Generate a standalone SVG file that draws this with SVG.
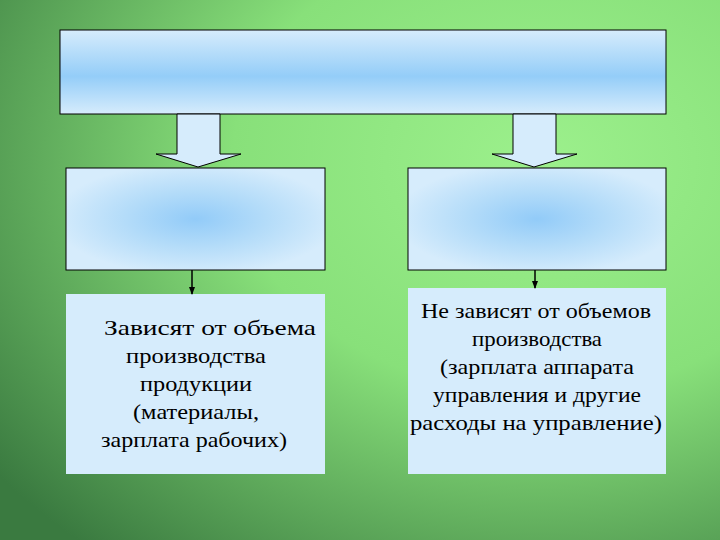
<svg xmlns="http://www.w3.org/2000/svg" width="720" height="540" viewBox="0 0 720 540">
<defs>
<radialGradient id="bg" cx="0.75" cy="0.3" r="0.95">
<stop offset="0" stop-color="#9cf08c"/><stop offset="0.45" stop-color="#88e07a"/><stop offset="1" stop-color="#3a7a40"/>
</radialGradient>
<linearGradient id="top" x1="0" y1="0" x2="0" y2="1">
<stop offset="0" stop-color="#d6ecfc"/><stop offset="0.55" stop-color="#94cdf8"/><stop offset="1" stop-color="#d6ecfc"/>
</linearGradient>
<radialGradient id="mid" cx="0.5" cy="0.5" r="0.55">
<stop offset="0" stop-color="#92cbf8"/><stop offset="0.5" stop-color="#b4dcf9"/><stop offset="1" stop-color="#d6ecfc"/>
</radialGradient>
<marker id="ah" markerWidth="8" markerHeight="8" refX="7" refY="4" orient="auto" markerUnits="userSpaceOnUse">
<path d="M0,1 L8,4 L0,7 z" fill="#000"/>
</marker>
<style>
.b{stroke:#000;stroke-width:1}
.t{font-family:"Liberation Serif",serif;font-size:21px;fill:#000;text-anchor:middle}
</style>
</defs>
<rect width="720" height="540" fill="url(#bg)"/>
<g id="top-box"><rect x="60" y="30" width="606" height="84" fill="url(#top)" class="b"/></g>
<g id="mid-left"><rect x="66" y="168" width="259" height="102" fill="url(#mid)" class="b"/></g>
<g id="mid-right"><rect x="408" y="168" width="258" height="102" fill="url(#mid)" class="b"/></g>
<g id="bottom-left"><rect x="66" y="294" width="259" height="180" fill="#d6ecfc"/>
<text class="t"><tspan x="210" y="335" textLength="212" lengthAdjust="spacingAndGlyphs">Зависят от объема</tspan><tspan x="196" y="363" textLength="140" lengthAdjust="spacingAndGlyphs">производства</tspan><tspan x="196" y="391" textLength="112" lengthAdjust="spacingAndGlyphs">продукции</tspan><tspan x="196" y="419" textLength="126" lengthAdjust="spacingAndGlyphs">(материалы,</tspan><tspan x="194" y="447" textLength="186" lengthAdjust="spacingAndGlyphs">зарплата рабочих)</tspan></text></g>
<g id="bottom-right"><rect x="408" y="288" width="258" height="186" fill="#d6ecfc"/>
<text class="t"><tspan x="536" y="318" textLength="230" lengthAdjust="spacingAndGlyphs">Не зависят от объемов</tspan><tspan x="537" y="346" textLength="130" lengthAdjust="spacingAndGlyphs">производства</tspan><tspan x="537" y="374" textLength="194" lengthAdjust="spacingAndGlyphs">(зарплата аппарата</tspan><tspan x="537" y="402" textLength="208" lengthAdjust="spacingAndGlyphs">управления и другие</tspan><tspan x="536" y="430" textLength="252" lengthAdjust="spacingAndGlyphs">расходы на управление)</tspan></text></g>
<g id="connectors">
<path d="M177,114 V154 H156 L198,167 L241,154 H220 V114 z" fill="#d6ecfc" class="b"/>
<path d="M513,114 V154 H492 L534,167 L577,154 H556 V114 z" fill="#d6ecfc" class="b"/>
<line x1="192" y1="270" x2="192" y2="294" stroke="#000" stroke-width="1.5" marker-end="url(#ah)"/>
<line x1="535" y1="270" x2="535" y2="288" stroke="#000" stroke-width="1.5" marker-end="url(#ah)"/>
</g>
</svg>
